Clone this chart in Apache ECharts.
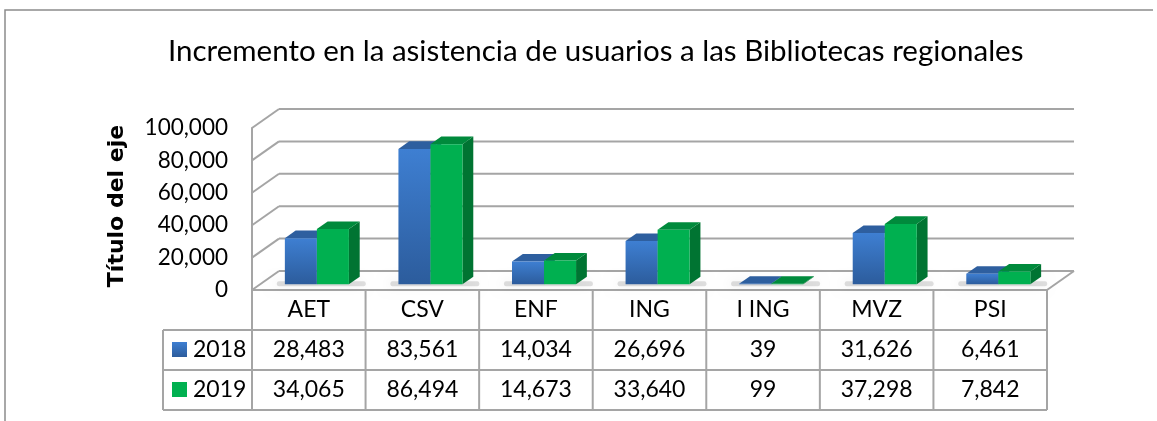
<!DOCTYPE html>
<html><head><meta charset="utf-8">
<script src="https://cdn.jsdelivr.net/npm/echarts@6/dist/echarts.min.js"></script>
<style>html,body{margin:0;padding:0;background:#fff}#c{width:1157px;height:421px}</style>
</head><body><div id="c"></div>
<script>
// ---- data ----
const chartTitle = 'Incremento en la asistencia de usuarios a las Bibliotecas regionales';
const yAxisTitle = 'Título del eje';
const categories = ['AET', 'CSV', 'ENF', 'ING', 'I ING', 'MVZ', 'PSI'];
const seriesNames = ['2018', '2019'];
const values2018 = [28483, 83561, 14034, 26696, 39, 31626, 6461];
const values2019 = [34065, 86494, 14673, 33640, 99, 37298, 7842];
const yTicks = [0, 20000, 40000, 60000, 80000, 100000];

// ---- styles ----
const FONT = 'Lato';
const GRID_COLOR = '#a5a5a5';
const DEPTH_X = 27, DEPTH_Y = -19;
const BAR_T0 = 0.3, BAR_T1 = 0.7;
const ROW_H = 40;
const COLORS = [
  { front: new echarts.graphic.LinearGradient(0, 0, 0, 1, [{offset: 0, color: '#3e7fd2'}, {offset: 1, color: '#2c5c9c'}]),
    top: '#2e5f9f', side: '#244d84' },
  { front: '#00b050', top: '#008a3c', side: '#007432' }
];
const fmt = v => v.toLocaleString('en-US');

const chart = echarts.init(document.getElementById('c'), null, {renderer: 'canvas'});

function wallsRender(params, api) {
  const cs = params.coordSys;
  const left = cs.x, right = cs.x + cs.width;
  const children = [];
  yTicks.forEach(t => {
    const y = api.coord([0, t])[1];
    children.push({type: 'line', shape: {x1: left, y1: y, x2: left + DEPTH_X, y2: y + DEPTH_Y},
      style: {stroke: GRID_COLOR, lineWidth: 2}});
    children.push({type: 'line', shape: {x1: left + DEPTH_X, y1: y + DEPTH_Y, x2: right + DEPTH_X, y2: y + DEPTH_Y},
      style: {stroke: GRID_COLOR, lineWidth: 2}});
  });
  const yb = api.coord([0, 0])[1];
  children.push({type: 'line', shape: {x1: right, y1: yb, x2: right + DEPTH_X, y2: yb + DEPTH_Y},
    style: {stroke: GRID_COLOR, lineWidth: 2}});
  return {type: 'group', children};
}

function barRender(k) {
  return function (params, api) {
    const i = api.value(0), v = api.value(1);
    const base = api.coord([i, 0]);
    const top = api.coord([i, v]);
    const bw = api.size([1, 0])[0];
    const barW = bw * 0.282;
    const ox = DEPTH_X * BAR_T0, oy = DEPTH_Y * BAR_T0;
    const dx = DEPTH_X * (BAR_T1 - BAR_T0), dy = DEPTH_Y * (BAR_T1 - BAR_T0);
    const x0 = base[0] + ox + (k === 0 ? -barW : 0), x1 = x0 + barW;
    const yb = base[1] + oy, yt = Math.min(top[1] + oy, yb - 0.5);
    const c = COLORS[k];
    const children = [];
    if (k === 0) {
      children.push({type: 'rect', shape: {x: x0 - 8, y: yb - 3, width: barW * 2 + dx + 14, height: 5, r: 2},
        style: {fill: 'rgba(0,0,0,0.12)', shadowBlur: 12, shadowColor: 'rgba(0,0,0,0.55)', shadowOffsetX: -3}});
    }
    children.push({type: 'polygon', shape: {points: [[x1, yb], [x1 + dx, yb + dy], [x1 + dx, yt + dy], [x1, yt]]},
      style: {fill: c.side}});
    children.push({type: 'polygon', shape: {points: [[x0, yt], [x1, yt], [x1 + dx, yt + dy], [x0 + dx, yt + dy]]},
      style: {fill: c.top}});
    children.push({type: 'rect', shape: {x: x0, y: yt, width: barW, height: yb - yt},
      style: {fill: c.front}});
    return {type: 'group', children};
  };
}

function tableRender(params, api) {
  const cs = params.coordSys;
  const i = api.value(0);
  const cx = api.coord([i, 0])[0];
  const bw = api.size([1, 0])[0];
  const y0 = cs.y + cs.height;
  const children = [];
  const ls = {stroke: GRID_COLOR, lineWidth: 2};
  children.push({type: 'line', shape: {x1: cx + bw / 2, y1: y0, x2: cx + bw / 2, y2: y0 + 3 * ROW_H}, style: ls});
  const rowVals = [api.value(1), api.value(2)];
  rowVals.forEach((v, r) => {
    children.push({type: 'text', style: {text: fmt(v), x: cx, y: y0 + ROW_H * (r + 1.5),
      align: 'center', verticalAlign: 'middle', font: '23px ' + FONT, fill: '#000'}});
  });
  if (i === 0) {
    const left = cs.x, right = cs.x + cs.width, legL = left - 89;
    children.push({type: 'line', shape: {x1: left, y1: y0, x2: left, y2: y0 + 3 * ROW_H}, style: ls});
    children.push({type: 'line', shape: {x1: left, y1: y0, x2: right, y2: y0}, style: ls});
    for (let r = 1; r <= 3; r++) {
      children.push({type: 'line', shape: {x1: legL, y1: y0 + r * ROW_H, x2: right, y2: y0 + r * ROW_H}, style: ls});
    }
    children.push({type: 'line', shape: {x1: legL, y1: y0 + ROW_H, x2: legL, y2: y0 + 3 * ROW_H}, style: ls});
    seriesNames.forEach((n, r) => {
      const yc = y0 + ROW_H * (r + 1.5);
      children.push({type: 'rect', shape: {x: legL + 9, y: yc - 8, width: 15, height: 15},
        style: {fill: COLORS[r].front}});
      children.push({type: 'text', style: {text: n, x: legL + 30, y: yc, align: 'left', verticalAlign: 'middle',
        font: '23px ' + FONT, fill: '#000'}});
    });
  }
  return {type: 'group', children};
}

const option = {
  backgroundColor: '#fff',
  animation: false,
  title: {text: chartTitle, left: 163, top: 31,
    textStyle: {fontFamily: FONT, fontSize: 29.5, fontWeight: 'normal', color: '#000'}},
  graphic: [
    {type: 'polyline', shape: {points: [[5, 421], [5, 10], [1153, 10]]}, style: {stroke: '#8c8c8c', lineWidth: 1.5, fill: null}}
  ],
  grid: {left: 252, top: 128, width: 795, height: 162, containLabel: false},
  xAxis: {type: 'category', data: categories,
    axisLine: {show: false}, axisTick: {show: false},
    axisLabel: {fontFamily: FONT, fontSize: 23, color: '#000', margin: 8}},
  yAxis: {type: 'value', min: 0, max: 100000, interval: 20000,
    name: yAxisTitle, nameLocation: 'middle', nameGap: 124,
    nameTextStyle: {fontFamily: 'DejaVu Sans', fontSize: 22, fontWeight: 'bold', color: '#000', padding: [0, 0, 0, 6]},
    axisLine: {show: true, lineStyle: {color: GRID_COLOR, width: 2}},
    axisTick: {show: false}, splitLine: {show: false},
    axisLabel: {fontFamily: FONT, fontSize: 22.5, color: '#000', margin: 24, formatter: v => fmt(v)}},
  series: [
    {type: 'custom', name: 'walls', z: 1, silent: true, renderItem: wallsRender, data: [[0, 0]], clip: false},
    {type: 'custom', name: seriesNames[0], z: 3, renderItem: barRender(0), clip: false,
      data: values2018.map((v, i) => [i, v])},
    {type: 'custom', name: seriesNames[1], z: 4, renderItem: barRender(1), clip: false,
      data: values2019.map((v, i) => [i, v])},
    {type: 'custom', name: 'table', z: 2, silent: true, renderItem: tableRender, clip: false,
      data: categories.map((c, i) => [i, values2018[i], values2019[i]])}
  ]
};
chart.setOption(option);
</script>
</body></html>
